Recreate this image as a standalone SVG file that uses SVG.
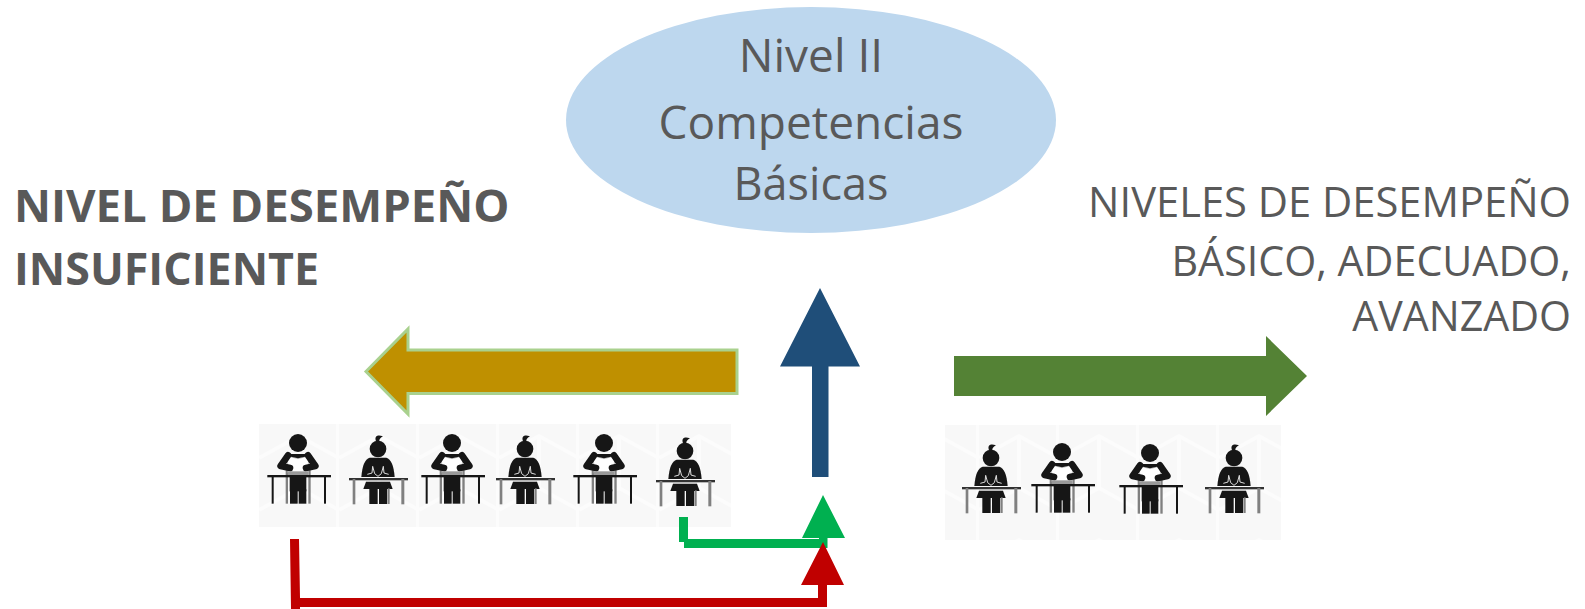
<svg xmlns="http://www.w3.org/2000/svg" width="1585" height="609" viewBox="0 0 1585 609">
<style>
text{font-family:"Open Sans","Liberation Sans",sans-serif;fill:#595959}
.c{font-size:46px;text-anchor:middle}
.b{font-size:45.500px;font-weight:700}
.r{font-size:41.700px;text-anchor:end}
.k{fill:#161616}
.gy{fill:#808080}
.ln{fill:none;stroke:#161616;stroke-linecap:round;stroke-linejoin:round;stroke-width:20}
</style>
<defs>
<filter id="soft" x="-10%" y="-10%" width="120%" height="120%"><feGaussianBlur stdDeviation="0.45"/></filter>
<pattern id="tex" width="80" height="104" patternUnits="userSpaceOnUse" x="259" y="424">
<rect width="80" height="104" fill="#f8f8f8"/>
<path d="M0 34 L40 12 L80 34 M0 86 L40 64 L80 86 M40 12V64" fill="none" stroke="#fcfcfc" stroke-width="4"/>
<rect x="77" width="3" height="104" fill="#fcfcfc"/>
</pattern>
<g id="boy" transform="scale(.3333)">
<rect x="-37" y="-22" width="7" height="105" class="gy"/>
<rect x="31" y="-22" width="7" height="105" class="gy"/>
<rect x="-25" y="0" width="50" height="46" class="k"/>
<rect x="-24" y="40" width="23" height="43" class="k"/>
<rect x="2" y="40" width="23" height="43" class="k"/>
<circle cy="-99" r="27" class="k"/>
<path d="M-32 -60 L0 -52 L32 -60 L30 -8 H-30Z" fill="#fff" stroke="#aaa" stroke-width="2"/>
<path d="M-30 -62 L-52 -30 L-24 -24 M30 -62 L52 -30 L24 -24" class="ln"/>
<path d="M-32 -66 H32 V-60 L0 -53 L-32 -60Z" class="k"/>
<rect x="-30" y="-14" width="60" height="11" fill="#999"/>
<rect x="-92" y="-3" width="191" height="7" class="k"/>
<rect x="-79" y="0" width="6" height="83" class="k"/>
<rect x="78" y="0" width="6" height="83" class="k"/>
</g>
<g id="girl" transform="scale(.3333)">
<circle cy="-90" r="25" class="k"/>
<path d="M-5 -112 C-12 -125 -5 -135 15 -128 C8 -124 3 -120 4 -112Z" class="k"/>
<path d="M-25 -64 H25 Q46 -58 50 -6 H-50 Q-46 -58 -25 -64Z" class="k"/>
<path d="M-32 -14 L-18 -18 L-16 -38 L-10 -16 L0 -8 L10 -16 L16 -38 L18 -18 L32 -14" fill="none" stroke="#ddd" stroke-width="3"/>
<path d="M-36 8 H36 L44 30 H-44Z" class="k"/>
<rect x="-26" y="28" width="25" height="47" class="k"/>
<rect x="3" y="28" width="25" height="47" class="k"/>
<rect x="30" y="28" width="5" height="47" class="gy"/>
<rect x="-87" y="-3" width="177" height="7" fill="#333"/>
<rect x="-76" y="0" width="8" height="76" class="gy"/>
<rect x="70" y="0" width="9" height="76" class="gy"/>
</g>
</defs>

<g id="node-ellipse">
<ellipse cx="811" cy="120" rx="245" ry="113" fill="#bdd7ee"/>
<text class="c" x="811" y="72">Nivel II</text>
<text class="c" x="811" y="139">Competencias</text>
<text class="c" x="811" y="200" style="font-size:45px">Básicas</text>
</g>
<g id="node-insuficiente">
<text class="b" x="14" y="222">NIVEL DE DESEMPEÑO</text>
<text class="b" x="14" y="285" style="font-size:44.800px">INSUFICIENTE</text>
</g>
<g id="node-niveles">
<text class="r" x="1571" y="217">NIVELES DE DESEMPEÑO</text>
<text class="r" x="1571" y="276" style="font-size:41.200px">BÁSICO, ADECUADO,</text>
<text class="r" x="1571" y="331" style="font-size:41.100px">AVANZADO</text>
</g>
<g id="node-students-left">
<rect x="259" y="424" width="472" height="103" fill="url(#tex)"/>
<g filter="url(#soft)">
<use href="#boy" x="298" y="476"/>
<use href="#girl" x="378" y="479"/>
<use href="#boy" x="452" y="476"/>
<use href="#girl" x="525" y="479"/>
<use href="#boy" x="604" y="476"/>
<use href="#girl" x="685" y="481"/>
</g>
</g>
<g id="node-students-right">
<rect x="945" y="425" width="336" height="115" fill="url(#tex)"/>
<g filter="url(#soft)">
<use href="#girl" x="991" y="488"/>
<use href="#boy" x="1062" y="485"/>
<use href="#boy" x="1150" y="486"/>
<use href="#girl" x="1234" y="488"/>
</g>
</g>
<g id="connectors">
<path d="M366 371.500 L408 329 V350 H737 V393.500 H408 V414 Z" fill="#bf9000" stroke="#a9d18e" stroke-width="3"/>
<path d="M820 288 L860 366.500 H828.500 V477 H812 V366.500 H780 Z" fill="#1f4e79"/>
<path d="M954 356 H1266 V336 L1307 376 L1266 416 V396 H954 Z" fill="#548235"/>
<path d="M823 495 L845 538 H827.500 V548 H684 V542 H679 V517 H688 V539 H819 V538 H802 Z" fill="#00b050"/>
<path d="M823 542 L844 585 H827 V607 H300 V609 H291 L290 539 H299 L300 598 H818 V585 H801 Z" fill="#c00000"/>
</g>
</svg>
